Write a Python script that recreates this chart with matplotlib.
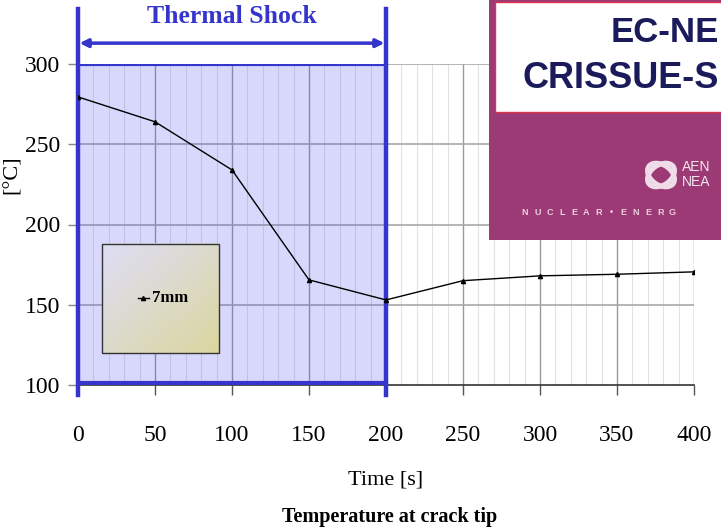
import numpy as np
import matplotlib.pyplot as plt
from matplotlib.patches import Rectangle, Ellipse

plt.rcParams['font.family'] = ['Liberation Serif', 'DejaVu Serif']

# data
time_s = [0, 50, 100, 150, 200, 250, 300, 350, 400]
temp_c = [279.5, 264, 234, 165.5, 153, 165, 168, 169, 170.5]
y_ticks = [100, 150, 200, 250, 300]
x_ticks = [0, 50, 100, 150, 200, 250, 300, 350, 400]
shock_start, shock_end = 0, 200
series_label = '7mm'

W, H = 721, 531
fig = plt.figure(figsize=(W / 100, H / 100), dpi=100)
ax = fig.add_axes([78 / W, 1 - 385 / H, (694 - 78) / W, (385 - 64) / H])

ax.set_xlim(0, 400)
ax.set_ylim(100, 300)

# grid: light minor verticals every 10, darker major every 50
for xv in np.arange(10, 400, 10):
    if xv % 50:
        ax.axvline(xv, color='#e2e2e2', lw=0.8, zorder=0)
for xv in x_ticks[1:]:
    ax.axvline(xv, color='#9a9a9a', lw=1.0, zorder=0)
for yv in y_ticks[1:]:
    ax.axhline(yv, color='#a8a8a8', lw=1.2, zorder=0)

for s in ['top', 'right', 'left']:
    ax.spines[s].set_visible(False)
ax.spines['bottom'].set_color('#333333')
ax.spines['bottom'].set_linewidth(1.2)

ax.set_xticks(x_ticks)
ax.set_yticks(y_ticks)
ax.tick_params(axis='x', direction='out', length=7, width=1, color='#555555',
               labelsize=17, pad=22)
ax.tick_params(axis='y', direction='out', length=7, width=1, color='#888888',
               labelsize=17, pad=6)

# thermal shock region
ax.add_patch(Rectangle((shock_start, 101), shock_end - shock_start, 199,
                       facecolor=(0.25, 0.25, 0.95, 0.2), edgecolor='none', zorder=1))
ax.plot([shock_start, shock_end], [300, 300], color='#3535cc', lw=3, zorder=4)
ax.plot([shock_start, shock_end], [101, 101], color='#3535cc', lw=3, zorder=4)
for xv in [shock_start, shock_end]:
    ax.plot([xv, xv], [93.5, 334], color='#3535cc', lw=3.2, zorder=4, clip_on=False)
ax.annotate('', xy=(shock_start + 1, 313), xytext=(shock_end - 1, 313),
            arrowprops=dict(arrowstyle='<|-|>', color='#3535cc', lw=2.5,
                            mutation_scale=12, shrinkA=0, shrinkB=0),
            annotation_clip=False, zorder=4)
ax.text((shock_start + shock_end) / 2, 329.5, 'Thermal Shock', ha='center', va='center',
        fontsize=18.5, fontweight='bold', color='#3535cc', clip_on=False)

# temperature curve
ax.plot(time_s, temp_c, color='black', lw=1, marker='^', markersize=3, zorder=5)

# legend box with gradient fill (lavender top-left -> khaki bottom-right)
bx0, bx1, by0, by1 = 15.6, 91.6, 120, 188
grad = np.linspace(0, 1, 100)
gx, gy = np.meshgrid(grad, grad)
t = (gx + gy) / 2
c0 = np.array([0.87, 0.87, 0.97])
c1 = np.array([0.86, 0.84, 0.62])
img = c0[None, None, :] * (1 - t[..., None]) + c1[None, None, :] * t[..., None]
ax.imshow(img, extent=[bx0, bx1, by0, by1], origin='upper', aspect='auto', zorder=6)
ax.add_patch(Rectangle((bx0, by0), bx1 - bx0, by1 - by0, fill=False,
                       edgecolor='#333333', lw=1, zorder=7))
ax.plot([39, 46], [154, 154], color='black', lw=1, zorder=8)
ax.plot([42.5], [154], marker='^', markersize=3, color='black', zorder=8)
ax.text(48, 154, series_label, ha='left', va='center', fontsize=12,
        fontweight='bold', zorder=8)
ax.set_xlim(0, 400)
ax.set_ylim(100, 300)

# axis titles
fig.text(12 / W, 1 - 175 / H, '[°C]', rotation=90, ha='center', va='center', fontsize=16)
fig.text(386 / W, 1 - 480 / H, 'Time [s]', ha='center', va='center', fontsize=16)
fig.text(390 / W, 1 - 517 / H, 'Temperature at crack tip', ha='center', va='center',
         fontsize=14.5, fontweight='bold')

# report cover in the corner (cropped by the figure edge)
cov = fig.add_axes([489 / W, 1 - 240 / H, (W - 489) / W, 240 / H], zorder=10)
cov.set_xlim(489, W)
cov.set_ylim(240, 0)
cov.axis('off')
cov.add_patch(Rectangle((489, 0), W - 489, 240, facecolor='#9c3a76', edgecolor='none'))
cov.add_patch(Rectangle((495, 2), 240, 110, facecolor='white', edgecolor='#e0304a', lw=1))
cov.text(719, 32, 'EC-NE', ha='right', va='center', fontsize=25, fontweight='bold',
         color='#1b1b5c', family='Liberation Sans')
cov.text(719, 78, 'CRISSUE-S', ha='right', va='center', fontsize=26, fontweight='bold',
         color='#1b1b5c', family='Liberation Sans')
for ang in [35, -35]:
    cov.add_patch(Ellipse((661, 175), 30, 20, angle=ang, fill=False,
                          edgecolor='#f0dce8', lw=3.5))
cov.text(682, 167, 'AEN', ha='left', va='center', fontsize=10, color='#f4e6ee',
         family='Liberation Sans')
cov.text(682, 182, 'NEA', ha='left', va='center', fontsize=10, color='#f4e6ee',
         family='Liberation Sans')
for i, ch in enumerate('NUCLEAR•ENERG'):
    cov.text(525 + i * 12.3, 212, ch, ha='center', va='center', fontsize=6.5,
             fontweight='bold', color='#eccfe0', family='Liberation Sans')

fig.savefig('out.png', dpi=100)
